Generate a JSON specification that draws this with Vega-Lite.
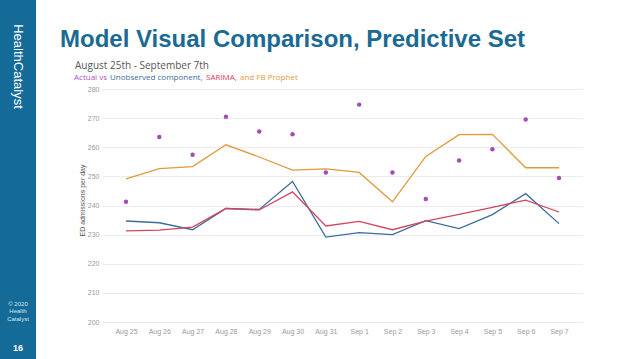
{
  "$schema": "https://vega.github.io/schema/vega-lite/v6.json",
  "padding": 0,
  "background": "white",
  "spacing": 24,
  "config": {"view": {"stroke": null}, "font": "Liberation Sans"},
  "hconcat": [
    {
      "width": 36,
      "height": 359,
      "view": {"fill": "#146b98", "stroke": null},
      "layer": [
        {
          "data": {"values": [{"t": "HealthCatalyst"}]},
          "mark": {"type": "text", "angle": 90, "fontSize": 13, "font": "Liberation Sans", "color": "white", "dx": -113, "baseline": "middle", "align": "center"},
          "encoding": {"text": {"field": "t"}}
        },
        {
          "data": {"values": [{"t": "© 2020\nHealth\nCatalyst"}]},
          "mark": {"type": "text", "fontSize": 6, "lineHeight": 7.5, "lineBreak": "\n", "font": "Liberation Sans", "color": "#d8e6ef", "dy": 124, "baseline": "middle", "align": "center"},
          "encoding": {"text": {"field": "t"}}
        },
        {
          "data": {"values": [{"t": "16"}]},
          "mark": {"type": "text", "fontSize": 9, "fontWeight": "bold", "font": "Liberation Sans", "color": "white", "dy": 168, "baseline": "middle", "align": "center"},
          "encoding": {"text": {"field": "t"}}
        }
      ]
    },
    {
      "width": 481,
      "height": 322,
      "title": {
        "text": "Model Visual Comparison, Predictive Set",
        "anchor": "start",
        "frame": "group",
        "dx": -42,
        "offset": -71,
        "baseline": "alphabetic",
        "fontSize": 24,
        "font": "Liberation Sans",
        "fontWeight": "bold",
        "color": "#1a6a93"
      },
      "data": {
        "values": [
          {"date": "Aug 25", "Actual": 241.3, "Unobserved component": 234.7, "SARIMA": 231.3, "FB Prophet": 249.2},
          {"date": "Aug 26", "Actual": 263.6, "Unobserved component": 234.1, "SARIMA": 231.6, "FB Prophet": 252.7},
          {"date": "Aug 27", "Actual": 257.5, "Unobserved component": 231.7, "SARIMA": 232.6, "FB Prophet": 253.4},
          {"date": "Aug 28", "Actual": 270.5, "Unobserved component": 239.0, "SARIMA": 239.0, "FB Prophet": 260.9},
          {"date": "Aug 29", "Actual": 265.5, "Unobserved component": 238.7, "SARIMA": 238.5, "FB Prophet": 256.7},
          {"date": "Aug 30", "Actual": 264.5, "Unobserved component": 248.3, "SARIMA": 244.7, "FB Prophet": 252.2},
          {"date": "Aug 31", "Actual": 251.4, "Unobserved component": 229.2, "SARIMA": 233.0, "FB Prophet": 252.6},
          {"date": "Sep 1", "Actual": 274.7, "Unobserved component": 230.7, "SARIMA": 234.6, "FB Prophet": 251.4},
          {"date": "Sep 2", "Actual": 251.4, "Unobserved component": 230.0, "SARIMA": 231.7, "FB Prophet": 241.3},
          {"date": "Sep 3", "Actual": 242.3, "Unobserved component": 234.8, "SARIMA": 234.7, "FB Prophet": 256.9},
          {"date": "Sep 4", "Actual": 255.5, "Unobserved component": 232.1, "SARIMA": 237.0, "FB Prophet": 264.4},
          {"date": "Sep 5", "Actual": 259.4, "Unobserved component": 236.9, "SARIMA": 239.4, "FB Prophet": 264.5},
          {"date": "Sep 6", "Actual": 269.6, "Unobserved component": 244.1, "SARIMA": 241.9, "FB Prophet": 253.0},
          {"date": "Sep 7", "Actual": 249.5, "Unobserved component": 233.8, "SARIMA": 237.8, "FB Prophet": 253.0}
        ]
      },
      "transform": [
        {"fold": ["Actual", "Unobserved component", "SARIMA", "FB Prophet"], "as": ["series", "value"]}
      ],
      "encoding": {
        "x": {
          "field": "date",
          "type": "ordinal",
          "sort": null,
          "scale": {"type": "point", "padding": 0.72},
          "axis": {"title": null, "labelAngle": 0, "labelFontSize": 7, "labelColor": "#9a9a9a", "labelPadding": 5, "ticks": false, "domain": false, "grid": false}
        },
        "y": {
          "field": "value",
          "type": "quantitative",
          "scale": {"domain": [200, 310.65], "nice": false, "zero": false},
          "axis": {
            "values": [200, 210, 220, 230, 240, 250, 260, 270, 280],
            "title": "ED admissions per day",
            "titleFontSize": 7,
            "titleFontWeight": "normal",
            "titleColor": "#555555",
            "titleX": -20,
            "titleY": 200,
            "titleAlign": "center",
            "titleBaseline": "middle",
            "labelFontSize": 7,
            "labelColor": "#9a9a9a",
            "labelPadding": 3,
            "ticks": false,
            "domain": false,
            "gridColor": "#ececec"
          }
        },
        "color": {
          "field": "series",
          "type": "nominal",
          "scale": {
            "domain": ["Actual", "Unobserved component", "SARIMA", "FB Prophet"],
            "range": ["#a24fb5", "#3b6e9c", "#d5445c", "#e09a3c"]
          },
          "legend": {
            "orient": "none",
            "legendX": 75,
            "legendY": 61,
            "direction": "horizontal",
            "title": "August 25th - September 7th",
            "titleFont": "Open Sans",
            "titleFontSize": 10,
            "titleFontWeight": "normal",
            "titleColor": "#555555",
            "titlePadding": 3,
            "titleLimit": 400,
            "labelFont": "Open Sans",
            "labelFontSize": 8,
            "labelOffset": -9,
            "columnPadding": 3,
            "symbolSize": 0,
            "symbolStrokeWidth": 0,
            "symbolOpacity": 0,
            "padding": 0,
            "labelExpr": "datum.label == 'Actual' ? 'Actual vs' : datum.label == 'Unobserved component' ? 'Unobserved component,' : datum.label == 'SARIMA' ? 'SARIMA,' : 'and FB Prophet'",
            "encode": {
              "labels": {
                "update": {
                  "fill": {"signal": "datum.value === 'Actual' ? '#b04fc0' : datum.value === 'SARIMA' ? '#d6405a' : datum.value === 'FB Prophet' ? '#e29b38' : '#3a6e9e'"}
                }
              }
            }
          }
        }
      },
      "layer": [
        {
          "transform": [{"filter": "datum.series !== 'Actual'"}],
          "mark": {"type": "line", "strokeWidth": 1.3}
        },
        {
          "transform": [{"filter": "datum.series === 'Actual'"}],
          "mark": {"type": "circle", "size": 20, "opacity": 1}
        }
      ]
    }
  ]
}
